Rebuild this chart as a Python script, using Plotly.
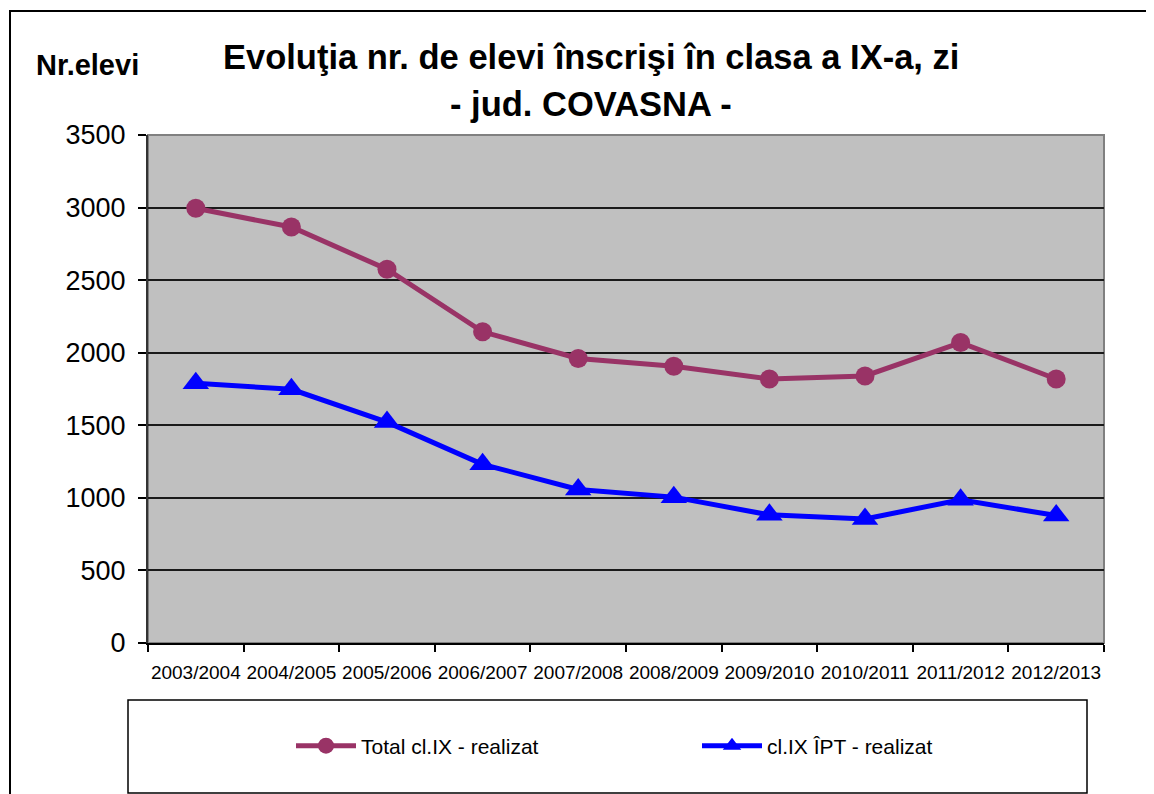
import plotly.graph_objects as go

years = ["2003/2004", "2004/2005", "2005/2006", "2006/2007", "2007/2008",
         "2008/2009", "2009/2010", "2010/2011", "2011/2012", "2012/2013"]
total_ix = [2995, 2866, 2575, 2144, 1960, 1907, 1819, 1840, 2070, 1819]
ipt_ix = [1789, 1748, 1522, 1231, 1058, 1005, 883, 855, 987, 878]

REG = "Liberation Sans, Arial"

OFF = 8                     # page body margin
W, H = 1154 - OFF, 794 - OFF
# plot area in page pixels
L, R, T, B = 148, 1104, 135, 643


def px(x):
    return (x - L) / (R - L)


def py(y):
    return (B - y) / (B - T)


fig = go.Figure()
fig.add_trace(go.Scatter(
    x=years, y=total_ix, name="Total cl.IX - realizat", mode="lines+markers",
    line=dict(color="#993366", width=5),
    marker=dict(symbol="circle", size=19, color="#993366"),
    legend="legend",
))
fig.add_trace(go.Scatter(
    x=years, y=ipt_ix, name="cl.IX ÎPT - realizat", mode="lines+markers",
    line=dict(color="#0000FF", width=5),
    marker=dict(symbol="triangle-up", size=23, color="#0000FF"),
    legend="legend2",
))

leg_common = dict(
    xanchor="left", y=py(746), yanchor="middle",
    font=dict(family=REG, size=21, color="black"),
    bgcolor="rgba(0,0,0,0)", borderwidth=0, itemwidth=60,
)

fig.update_layout(
    width=W, height=H,
    margin=dict(l=L - OFF, r=W - (R - OFF), t=T - OFF, b=H - (B - OFF)),
    paper_bgcolor="white",
    plot_bgcolor="#C0C0C0",
    showlegend=True,
    legend=dict(x=px(291), **leg_common),
    legend2=dict(x=px(697), **leg_common),
    xaxis=dict(
        type="category", range=[-0.5, 9.5], tickson="boundaries",
        ticks="outside", ticklen=7, tickcolor="black", tickwidth=1.5,
        tickangle=0,
        showgrid=False, showline=True, linecolor="black", linewidth=2,
        tickfont=dict(family=REG, size=19, color="black"),
        ticklabelstandoff=11,
    ),
    yaxis=dict(
        range=[0, 3500], dtick=500, ticks="outside", ticklen=8,
        tickcolor="black", tickwidth=1.5,
        showgrid=True, gridcolor="#1a1a1a", gridwidth=2,
        showline=True, linecolor="#333333", linewidth=2,
        zeroline=False,
        tickfont=dict(family=REG, size=27, color="black"),
        ticklabelstandoff=7,
    ),
    shapes=[
        dict(type="rect", xref="paper", yref="paper", x0=0, x1=1, y0=0, y1=1,
             line=dict(color="#808080", width=2), layer="below"),
        dict(type="rect", xref="paper", yref="paper",
             x0=px(128), x1=px(1087), y0=py(700), y1=py(793),
             line=dict(color="black", width=1.5)),
        dict(type="rect", xref="paper", yref="paper",
             x0=px(10), x1=px(1170), y0=py(11), y1=py(810),
             line=dict(color="black", width=2)),
    ],
    annotations=[
        dict(text="Evoluţia nr. de elevi înscrişi în clasa a IX-a, zi",
             xref="paper", yref="paper", x=px(591), y=py(57),
             xanchor="center", yanchor="middle", showarrow=False,
             font=dict(family=REG, size=34.5, color="black", weight="bold")),
        dict(text="- jud. COVASNA -",
             xref="paper", yref="paper", x=px(591), y=py(104),
             xanchor="center", yanchor="middle", showarrow=False,
             font=dict(family=REG, size=34.5, color="black", weight="bold")),
        dict(text="Nr.elevi",
             xref="paper", yref="paper", x=px(34), y=py(65),
             xanchor="left", yanchor="middle", showarrow=False,
             font=dict(family=REG, size=29, color="black", weight="bold")),
    ],
)

fig.write_html("out.html")
